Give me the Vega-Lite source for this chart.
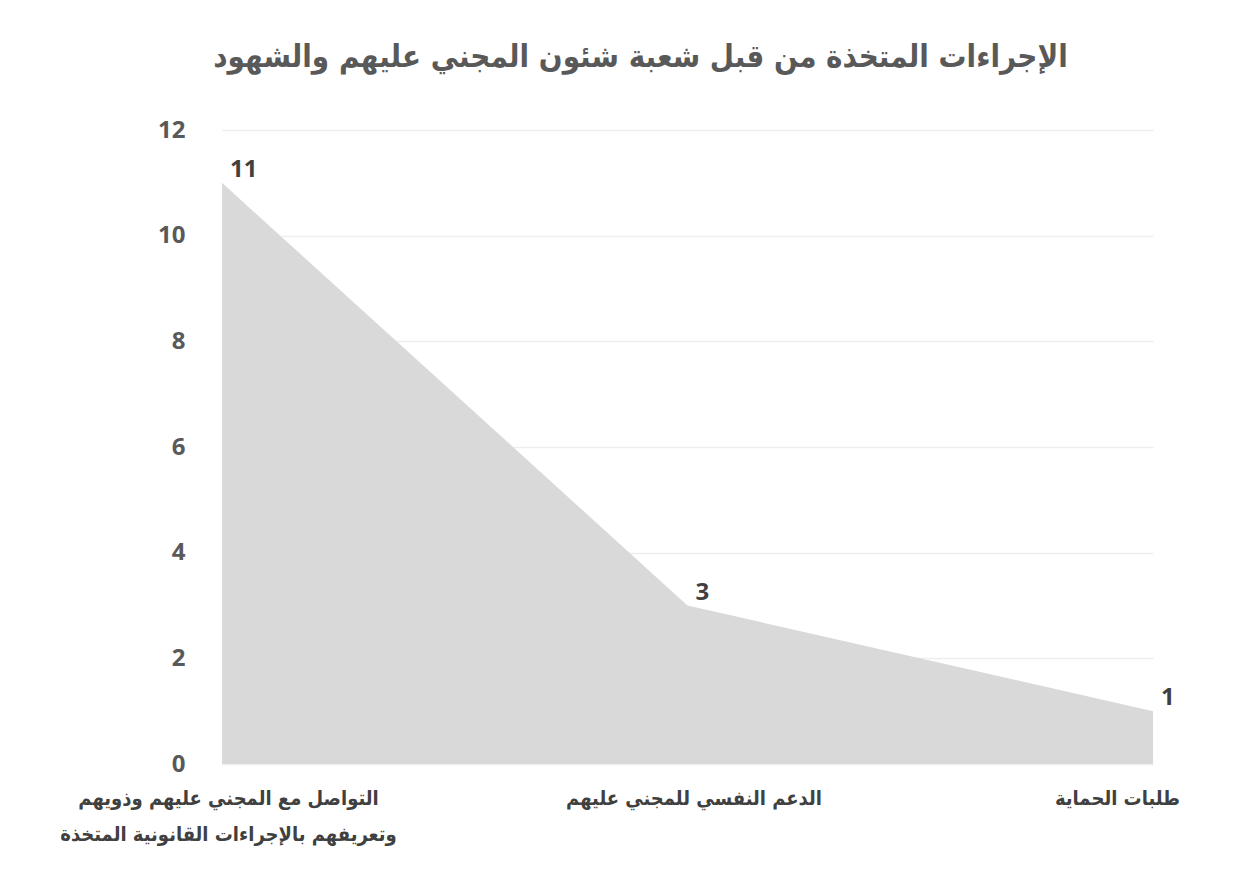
{
  "$schema": "https://vega.github.io/schema/vega-lite/v6.json",
  "autosize": {"type": "none"},
  "width": 931,
  "height": 634,
  "padding": {"left": 222, "top": 130, "right": 106, "bottom": 122},
  "background": "white",
  "config": {"view": {"stroke": null}, "font": "DejaVu Sans Condensed"},
  "title": {
    "text": "الإجراءات المتخذة من قبل شعبة شئون المجني عليهم والشهود",
    "font": "DejaVu Sans Condensed",
    "fontSize": 31,
    "fontWeight": "bold",
    "color": "#595959",
    "anchor": "middle",
    "dx": -47,
    "offset": 44
  },
  "data": {
    "values": [
      {"category": "التواصل مع المجني عليهم وذويهم\nوتعريفهم بالإجراءات القانونية المتخذة", "value": 11},
      {"category": "الدعم النفسي للمجني عليهم", "value": 3},
      {"category": "طلبات الحماية", "value": 1}
    ]
  },
  "encoding": {
    "x": {
      "field": "category",
      "type": "nominal",
      "sort": null,
      "scale": {"type": "point", "padding": 0},
      "axis": {
        "title": null,
        "labelAngle": 0,
        "labelExpr": "split(datum.label, '\\n')",
        "labelFont": "DejaVu Sans Condensed",
        "labelFontSize": 20,
        "labelFontWeight": "bold",
        "labelColor": "#404040",
        "labelLineHeight": 36,
        "labelPadding": 24,
        "labelBaseline": "top",
        "labelLimit": 0,
        "labelOffset": {"condition": {"test": "datum.index == 1", "value": -36}, "value": 6},
        "ticks": false,
        "domain": false,
        "grid": false,
        "labelOverlap": false,
        "labelBound": false,
        "labelFlush": false
      }
    },
    "y": {
      "field": "value",
      "type": "quantitative",
      "scale": {"domain": [0, 12]},
      "axis": {
        "title": null,
        "values": [0, 2, 4, 6, 8, 10, 12],
        "labelFont": "Open Sans",
        "labelFontSize": 24,
        "labelFontWeight": "bold",
        "labelColor": "#595959",
        "labelPadding": 37,
        "ticks": false,
        "domain": false,
        "gridColor": "#eeeeee",
        "gridWidth": 1.5
      }
    }
  },
  "layer": [
    {"mark": {"type": "area", "color": "#d9d9d9", "opacity": 1}},
    {
      "mark": {"type": "text", "dx": 8, "dy": -6, "align": "left", "baseline": "alphabetic", "font": "Open Sans", "fontSize": 24, "fontWeight": "bold", "color": "#404040"},
      "encoding": {"text": {"field": "value", "type": "quantitative"}}
    }
  ]
}
